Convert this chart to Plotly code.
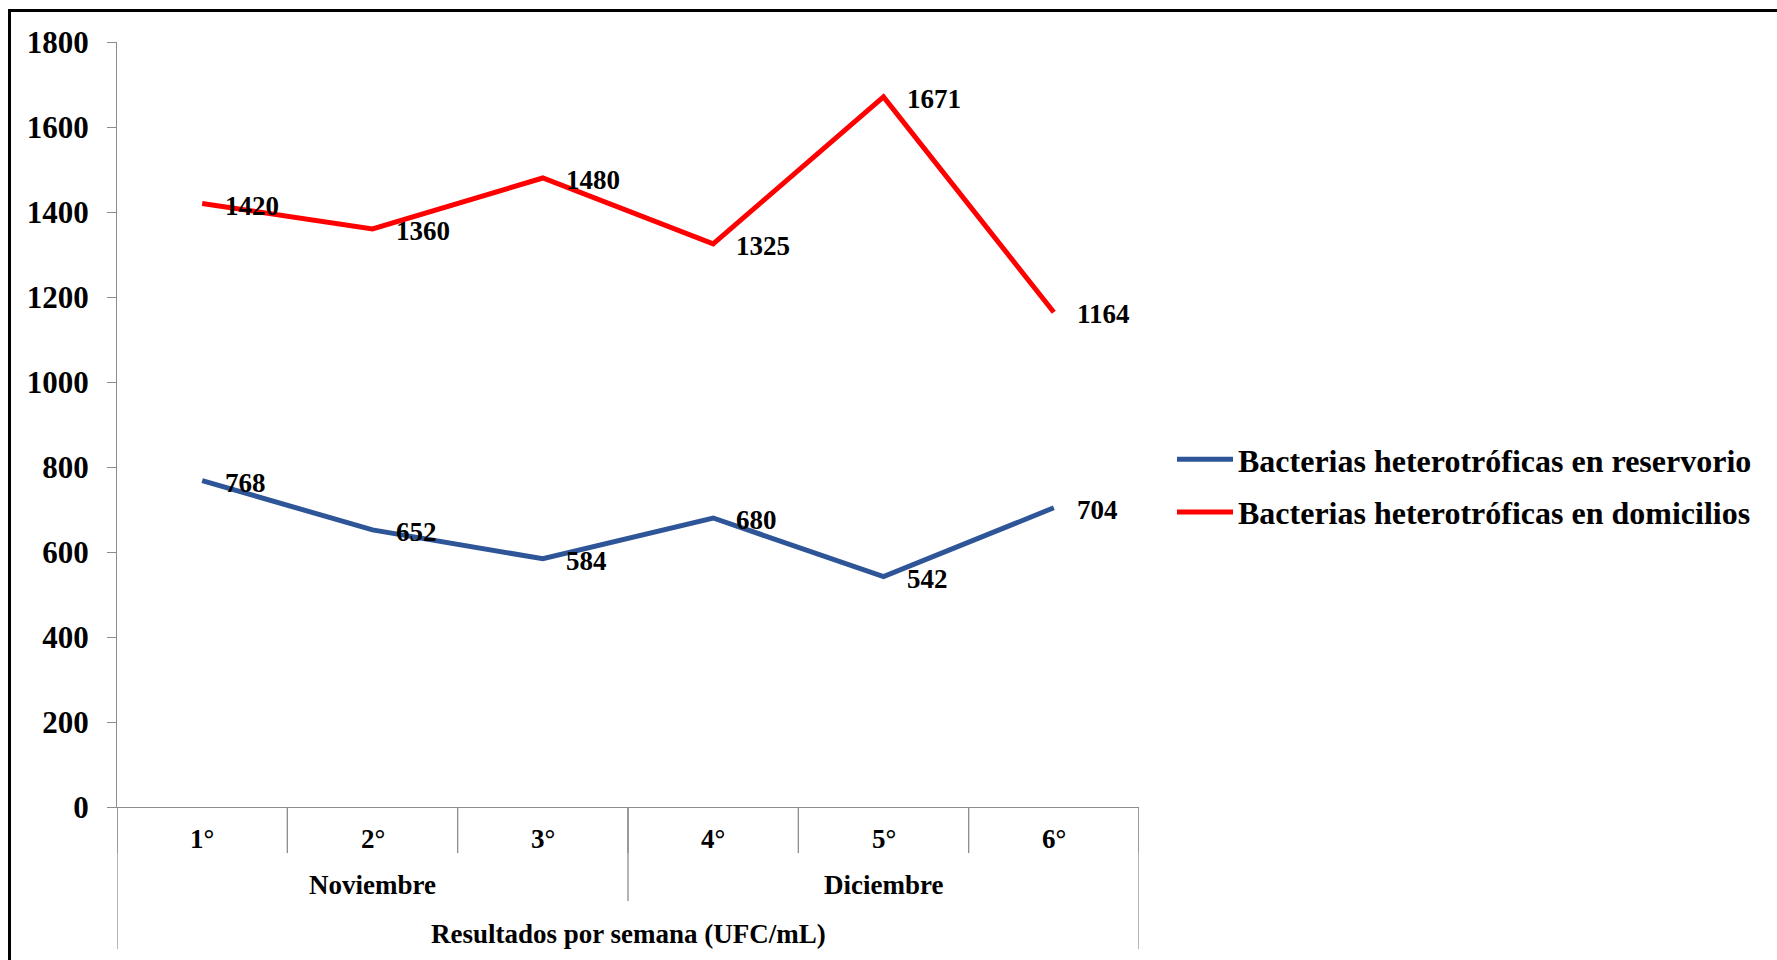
import plotly.graph_objects as go

# Weekly heterotrophic bacteria counts (UFC/mL)
weeks = ["1°", "2°", "3°", "4°", "5°", "6°"]
months = ["Noviembre", "Diciembre"]
weeks_per_month = [3, 3]
reservorio = [768, 652, 584, 680, 542, 704]
domicilios = [1420, 1360, 1480, 1325, 1671, 1164]
series_names = ["Bacterias heterotróficas en reservorio",
                "Bacterias heterotróficas en domicilios"]
y_ticks = [0, 200, 400, 600, 800, 1000, 1200, 1400, 1600, 1800]
x_title = "Resultados por semana (UFC/mL)"

W, H = 1777, 960
M_L, M_R, M_T, M_B = 117, 638, 42, 153
PLOT_H = H - M_T - M_B
PLOT_W = W - M_L - M_R

FONT = "Liberation Serif"
BLUE = "#2E5597"
RED = "#FF0000"
GRID = "#8C8C8C"

x_pos = list(range(len(weeks)))


def py(px):
    """Pixel distance -> paper fraction (vertical)."""
    return px / PLOT_H


def pxx(px):
    """Absolute page pixel x -> paper fraction."""
    return (px - M_L) / PLOT_W


fig = go.Figure()
fig.add_trace(go.Scatter(
    x=x_pos, y=reservorio, mode="lines", name=f"<b>{series_names[0]}</b>",
    line=dict(color=BLUE, width=5), legendgroup="a",
))
fig.add_trace(go.Scatter(
    x=x_pos, y=domicilios, mode="lines", name=f"<b>{series_names[1]}</b>",
    line=dict(color=RED, width=5), legendgroup="b",
))

annotations = []
# value labels to the right of each point
for series in (reservorio, domicilios):
    for xi, v in zip(x_pos, series):
        annotations.append(dict(
            x=xi, y=v, xref="x", yref="y", text=f"<b>{v}</b>", showarrow=False,
            xanchor="left", yanchor="middle", xshift=21, yshift=-2,
            font=dict(family=FONT, size=27, color="black"),
        ))

# week labels
for xi, w in zip(x_pos, weeks):
    annotations.append(dict(
        x=xi, y=0, xref="x", yref="paper", text=f"<b>{w}</b>", showarrow=False,
        xanchor="center", yanchor="middle", yshift=-32,
        font=dict(family=FONT, size=27, color="black"),
    ))

# month labels centred on their group of weeks
start = 0
for m, n in zip(months, weeks_per_month):
    center = start + (n - 1) / 2
    annotations.append(dict(
        x=center, y=0, xref="x", yref="paper", text=f"<b>{m}</b>", showarrow=False,
        xanchor="center", yanchor="middle", yshift=-78,
        font=dict(family=FONT, size=27, color="black"),
    ))
    start += n

annotations.append(dict(
    x=0.5, y=0, xref="paper", yref="paper", text=f"<b>{x_title}</b>", showarrow=False,
    xanchor="center", yanchor="middle", yshift=-127,
    font=dict(family=FONT, size=27, color="black"),
))

shapes = []
# dividers between weeks
for b in [i - 0.5 for i in range(len(weeks) + 1)]:
    shapes.append(dict(type="line", xref="x", yref="paper", x0=b, x1=b,
                       y0=0, y1=-py(46), line=dict(color=GRID, width=1.3)))
# dividers between months and on the outer edges
edges = [-0.5]
acc = -0.5
for n in weeks_per_month:
    acc += n
    edges.append(acc)
for b in edges:
    outer = b in (edges[0], edges[-1])
    shapes.append(dict(type="line", xref="x", yref="paper", x0=b, x1=b,
                       y0=0, y1=-py(142 if outer else 94),
                       line=dict(color=GRID, width=1.3)))

# frame around the chart area
shapes.append(dict(type="line", xref="paper", yref="paper",
                   x0=pxx(9.5), x1=pxx(9.5), y0=1 + py(M_T - 10.5), y1=-py(M_B + 5),
                   line=dict(color="black", width=3)))
shapes.append(dict(type="line", xref="paper", yref="paper",
                   x0=pxx(8), x1=pxx(W + 5), y0=1 + py(M_T - 10.5), y1=1 + py(M_T - 10.5),
                   line=dict(color="black", width=3)))

fig.update_layout(
    width=W, height=H,
    margin=dict(l=M_L, r=M_R, t=M_T, b=M_B, pad=0),
    paper_bgcolor="white", plot_bgcolor="white",
    showlegend=True,
    legend=dict(
        x=pxx(1172), y=1 - py(432 - M_T), xanchor="left", yanchor="top",
        font=dict(family=FONT, size=32, color="black"),
        tracegroupgap=8, itemwidth=56, bgcolor="rgba(0,0,0,0)",
        traceorder="grouped",
    ),
    xaxis=dict(
        range=[-0.5, len(weeks) - 0.5], showgrid=False, zeroline=False,
        showticklabels=False, ticks="", showline=True, linecolor=GRID, linewidth=1.3,
        fixedrange=True,
    ),
    yaxis=dict(
        range=[0, 1800], tickvals=y_ticks, ticktext=[f"<b>{t}</b>" for t in y_ticks],
        showgrid=False, zeroline=False, showline=True, linecolor=GRID, linewidth=1.3,
        ticks="outside", ticklen=9, tickcolor=GRID, tickwidth=1.3,
        tickfont=dict(family=FONT, size=31, color="black"),
        ticklabelstandoff=12,
    ),
    annotations=annotations,
    shapes=shapes,
)

fig.write_html("out.html")
